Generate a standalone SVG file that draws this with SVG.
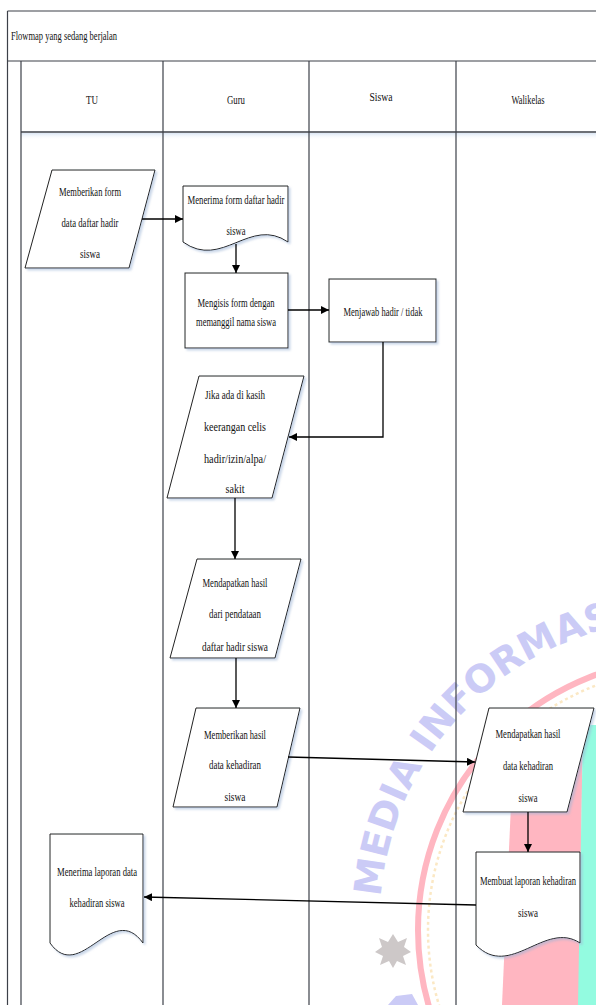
<svg xmlns="http://www.w3.org/2000/svg" width="596" height="1005" viewBox="0 0 596 1005">
<defs>
<style>
.t{font-family:"Liberation Serif","Times New Roman",serif;font-size:12px;fill:#111;text-anchor:middle}
.tl{font-family:"Liberation Serif","Times New Roman",serif;font-size:13px;fill:#111}
.lane{stroke:#3c4048;stroke-width:1.2;fill:none}
.shape{fill:#fff;stroke:#222;stroke-width:1;filter:url(#sh)}
.con{stroke:#000;stroke-width:1.3;fill:none;marker-end:url(#arr)}
.wm{font-family:"DejaVu Sans","Liberation Sans",sans-serif;font-weight:bold;font-size:38px;fill:#cbcbf6}
</style>
<filter id="sh" x="-10%" y="-10%" width="125%" height="125%">
<feDropShadow dx="2" dy="2" stdDeviation="1.2" flood-color="#9fb6d6" flood-opacity="0.55"/>
</filter>
<linearGradient id="hg" x1="0" y1="0" x2="0" y2="1">
<stop offset="0" stop-color="#dbe6f4"/>
<stop offset="1" stop-color="#ffffff" stop-opacity="0"/>
</linearGradient>
<marker id="arr" viewBox="0 0 10 10" refX="10" refY="5" markerWidth="8" markerHeight="8" markerUnits="userSpaceOnUse" orient="auto">
<path d="M0,0 L10,5 L0,10 z" fill="#000"/>
</marker>
<path id="wmArc" d="M380,920 A300,300 0 0 1 980,920"/>
</defs>
<rect width="596" height="1005" fill="#fff"/>

<!-- watermark -->
<g id="watermark">
<polygon points="515,715 583,715 579,1005 502,1005" fill="#ffb6c1"/>
<polygon points="583,725 596,725 596,1005 578,1005" fill="#93fbe0"/>
<circle cx="690" cy="930" r="272" fill="none" stroke="#ffb6c1" stroke-width="6"/>
<circle cx="690" cy="930" r="262" fill="none" stroke="#fbe8c4" stroke-width="2.5" stroke-dasharray="3 3"/>
<text class="wm"><textPath href="#wmArc" startOffset="23" textLength="396" lengthAdjust="spacingAndGlyphs">MEDIA INFORMASI</textPath></text>
<polygon points="393,934 398,942 407,938 404,947 411,952 403,956 406,965 397,961 393,968 389,961 380,965 383,956 375,952 382,947 379,938 388,942" fill="#cdc8c8"/>
<polygon points="388,1005 396,996 412,994 418,1005" fill="#cbcbf6"/>
</g>

<!-- frame and lanes -->
<g id="frame">
<rect x="21" y="133" width="575" height="7" fill="url(#hg)"/>
<line class="lane" x1="7.5" y1="11" x2="596" y2="11"/>
<line class="lane" x1="7.5" y1="11" x2="7.5" y2="1005"/>
<line class="lane" x1="7.5" y1="61" x2="596" y2="61"/>
<line class="lane" x1="21" y1="61" x2="21" y2="1005"/>
<line class="lane" x1="21" y1="132" x2="596" y2="132" style="stroke-width:1.5"/>
<line class="lane" x1="163" y1="61" x2="163" y2="1005"/>
<line class="lane" x1="309" y1="61" x2="309" y2="1005"/>
<line class="lane" x1="456" y1="61" x2="456" y2="1005"/>
<text class="tl" x="11" y="40" textLength="106" lengthAdjust="spacingAndGlyphs">Flowmap yang sedang berjalan</text>
<text class="t" x="92" y="104" textLength="12" lengthAdjust="spacingAndGlyphs">TU</text>
<text class="t" x="236" y="104" textLength="18" lengthAdjust="spacingAndGlyphs">Guru</text>
<text class="t" x="381" y="101" textLength="23" lengthAdjust="spacingAndGlyphs">Siswa</text>
<text class="t" x="528" y="104" textLength="33" lengthAdjust="spacingAndGlyphs">Walikelas</text>
</g>

<!-- nodes -->
<g id="n1">
<polygon class="shape" points="52,170 155,170 129,268 25,268"/>
<text class="t" x="90" y="196" textLength="62" lengthAdjust="spacingAndGlyphs">Memberikan form</text>
<text class="t" x="90" y="227" textLength="57" lengthAdjust="spacingAndGlyphs">data daftar hadir</text>
<text class="t" x="90" y="258" textLength="20" lengthAdjust="spacingAndGlyphs">siswa</text>
</g>
<g id="n2">
<path class="shape" d="M183,186 H288 V242 C250,216 222,270 183,242 Z"/>
<text class="t" x="236" y="204" textLength="97" lengthAdjust="spacingAndGlyphs">Menerima form daftar hadir</text>
<text class="t" x="236" y="235" textLength="19" lengthAdjust="spacingAndGlyphs">siswa</text>
</g>
<g id="n3">
<rect class="shape" x="185" y="273" width="103" height="75"/>
<text class="t" x="236" y="307" textLength="77" lengthAdjust="spacingAndGlyphs">Mengisis form dengan</text>
<text class="t" x="236" y="326" textLength="80" lengthAdjust="spacingAndGlyphs">memanggil nama siswa</text>
</g>
<g id="n4">
<rect class="shape" x="329" y="279" width="107" height="63"/>
<text class="t" x="383" y="316" textLength="79" lengthAdjust="spacingAndGlyphs">Menjawab hadir / tidak</text>
</g>
<g id="n5">
<polygon class="shape" points="199,376 304,376 272,498 167,498"/>
<text class="t" x="235" y="399" textLength="60" lengthAdjust="spacingAndGlyphs">Jika ada di kasih</text>
<text class="t" x="235" y="431" textLength="62" lengthAdjust="spacingAndGlyphs">keerangan celis</text>
<text class="t" x="235" y="463" textLength="62" lengthAdjust="spacingAndGlyphs">hadir/izin/alpa/</text>
<text class="t" x="235" y="493" textLength="19" lengthAdjust="spacingAndGlyphs">sakit</text>
</g>
<g id="n6">
<polygon class="shape" points="197,559 301,559 275,658 170,658"/>
<text class="t" x="235" y="587" textLength="65" lengthAdjust="spacingAndGlyphs">Mendapatkan hasil</text>
<text class="t" x="235" y="618" textLength="52" lengthAdjust="spacingAndGlyphs">dari pendataan</text>
<text class="t" x="235" y="651" textLength="66" lengthAdjust="spacingAndGlyphs">daftar hadir siswa</text>
</g>
<g id="n7">
<polygon class="shape" points="196,708 300,708 277,807 173,807"/>
<text class="t" x="235" y="739" textLength="62" lengthAdjust="spacingAndGlyphs">Memberikan hasil</text>
<text class="t" x="235" y="769" textLength="52" lengthAdjust="spacingAndGlyphs">data kehadiran</text>
<text class="t" x="235" y="801" textLength="21" lengthAdjust="spacingAndGlyphs">siswa</text>
</g>
<g id="n8">
<polygon class="shape" points="489,708 594,708 567,812 463,812"/>
<text class="t" x="528" y="738" textLength="65" lengthAdjust="spacingAndGlyphs">Mendapatkan hasil</text>
<text class="t" x="528" y="770" textLength="50" lengthAdjust="spacingAndGlyphs">data kehadiran</text>
<text class="t" x="528" y="802" textLength="19" lengthAdjust="spacingAndGlyphs">siswa</text>
</g>
<g id="n9">
<path class="shape" d="M476,852 H580 V943 C545,920 510,980 476,945 Z"/>
<text class="t" x="528" y="885" textLength="96" lengthAdjust="spacingAndGlyphs">Membuat laporan kehadiran</text>
<text class="t" x="528" y="917" textLength="20" lengthAdjust="spacingAndGlyphs">siswa</text>
</g>
<g id="n10">
<path class="shape" d="M50,834 H143 V943 C112,900 80,985 50,943 Z"/>
<text class="t" x="97" y="876" textLength="80" lengthAdjust="spacingAndGlyphs">Menerima laporan data</text>
<text class="t" x="97" y="907" textLength="55" lengthAdjust="spacingAndGlyphs">kehadiran siswa</text>
</g>

<!-- connectors -->
<g id="connectors">
<path class="con" d="M142,219 H183"/>
<path class="con" d="M236,244 V273"/>
<path class="con" d="M288,310 H329"/>
<path class="con" d="M383,342 V437 H289"/>
<path class="con" d="M235,498 V559"/>
<path class="con" d="M236,658 V708"/>
<path class="con" d="M288,757 L475,762"/>
<path class="con" d="M528,812 V852"/>
<path class="con" d="M476,905 L144,897"/>
</g>
</svg>
